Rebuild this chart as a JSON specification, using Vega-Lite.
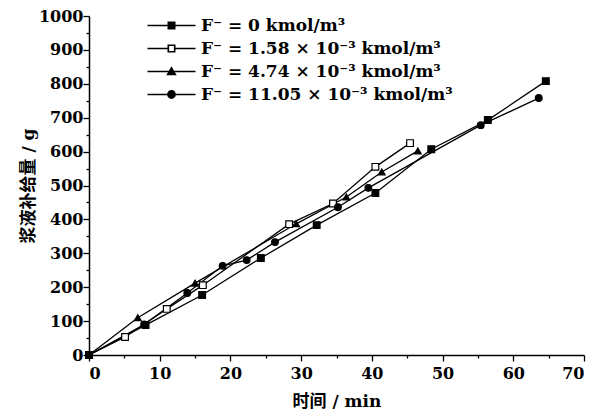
{
  "$schema": "https://vega.github.io/schema/vega-lite/v6.json",
  "width": 495,
  "height": 339,
  "autosize": {"type": "none"},
  "padding": {"left": 89, "top": 16, "right": 24, "bottom": 56},
  "background": "white",
  "config": {
    "view": {"stroke": null},
    "axis": {
      "domainColor": "black", "domainWidth": 1.5, "tickColor": "black", "tickWidth": 1.3, "ticks": true, "zindex": 1,
      "labelFont": "DejaVu Serif", "labelFontWeight": "bold", "labelFontSize": 16, "labelColor": "black",
      "titleFont": "DejaVu Serif, Noto Sans CJK SC", "titleFontWeight": "bold", "titleFontSize": 17, "titleColor": "black",
      "grid": false
    }
  },
  "data": {"values": [
    {"s": "F⁻ = 0 kmol/m³", "t": 0, "w": 0},
    {"s": "F⁻ = 0 kmol/m³", "t": 8, "w": 88},
    {"s": "F⁻ = 0 kmol/m³", "t": 16, "w": 177},
    {"s": "F⁻ = 0 kmol/m³", "t": 24.3, "w": 286},
    {"s": "F⁻ = 0 kmol/m³", "t": 32.2, "w": 383},
    {"s": "F⁻ = 0 kmol/m³", "t": 40.5, "w": 478},
    {"s": "F⁻ = 0 kmol/m³", "t": 48.4, "w": 607},
    {"s": "F⁻ = 0 kmol/m³", "t": 56.4, "w": 693},
    {"s": "F⁻ = 0 kmol/m³", "t": 64.6, "w": 808},
    {"s": "F⁻ = 1.58 × 10⁻³ kmol/m³", "t": 0, "w": 0},
    {"s": "F⁻ = 1.58 × 10⁻³ kmol/m³", "t": 5.1, "w": 53},
    {"s": "F⁻ = 1.58 × 10⁻³ kmol/m³", "t": 11, "w": 136},
    {"s": "F⁻ = 1.58 × 10⁻³ kmol/m³", "t": 16.1, "w": 206},
    {"s": "F⁻ = 1.58 × 10⁻³ kmol/m³", "t": 28.3, "w": 386},
    {"s": "F⁻ = 1.58 × 10⁻³ kmol/m³", "t": 34.5, "w": 447},
    {"s": "F⁻ = 1.58 × 10⁻³ kmol/m³", "t": 40.5, "w": 555},
    {"s": "F⁻ = 1.58 × 10⁻³ kmol/m³", "t": 45.4, "w": 625},
    {"s": "F⁻ = 4.74 × 10⁻³ kmol/m³", "t": 0, "w": 0},
    {"s": "F⁻ = 4.74 × 10⁻³ kmol/m³", "t": 6.9, "w": 110},
    {"s": "F⁻ = 4.74 × 10⁻³ kmol/m³", "t": 15, "w": 212},
    {"s": "F⁻ = 4.74 × 10⁻³ kmol/m³", "t": 29.3, "w": 387},
    {"s": "F⁻ = 4.74 × 10⁻³ kmol/m³", "t": 36.4, "w": 466},
    {"s": "F⁻ = 4.74 × 10⁻³ kmol/m³", "t": 41.4, "w": 540},
    {"s": "F⁻ = 4.74 × 10⁻³ kmol/m³", "t": 46.5, "w": 602},
    {"s": "F⁻ = 11.05 × 10⁻³ kmol/m³", "t": 0, "w": 0},
    {"s": "F⁻ = 11.05 × 10⁻³ kmol/m³", "t": 7.8, "w": 90},
    {"s": "F⁻ = 11.05 × 10⁻³ kmol/m³", "t": 13.9, "w": 183},
    {"s": "F⁻ = 11.05 × 10⁻³ kmol/m³", "t": 18.9, "w": 263},
    {"s": "F⁻ = 11.05 × 10⁻³ kmol/m³", "t": 22.3, "w": 280},
    {"s": "F⁻ = 11.05 × 10⁻³ kmol/m³", "t": 26.3, "w": 333},
    {"s": "F⁻ = 11.05 × 10⁻³ kmol/m³", "t": 35.2, "w": 436},
    {"s": "F⁻ = 11.05 × 10⁻³ kmol/m³", "t": 39.5, "w": 493},
    {"s": "F⁻ = 11.05 × 10⁻³ kmol/m³", "t": 55.4, "w": 678},
    {"s": "F⁻ = 11.05 × 10⁻³ kmol/m³", "t": 63.6, "w": 758}
  ]},
  "encoding": {
    "x": {"field": "t", "type": "quantitative", "scale": {"domain": [0, 70], "nice": false},
          "axis": {"orient": "bottom", "values": [0, 5, 10, 15, 20, 25, 30, 35, 40, 45, 50, 55, 60, 65, 70],
                   "labelExpr": "datum.value % 10 === 0 ? datum.label : ''",
                   "tickSize": 6,
                   "tickDash": {"condition": {"test": "datum.value % 10 !== 0", "value": [3, 20]}, "value": []},
                   "labelPadding": 4, "title": "时间 / min", "titlePadding": 12}},
    "y": {"field": "w", "type": "quantitative", "scale": {"domain": [0, 1000], "nice": false},
          "axis": {"orient": "left", "values": [0, 50, 100, 150, 200, 250, 300, 350, 400, 450, 500, 550, 600, 650, 700, 750, 800, 850, 900, 950, 1000],
                   "format": "d",
                   "labelExpr": "datum.value % 100 === 0 ? datum.label : ''",
                   "tickSize": 6,
                   "tickDash": {"condition": {"test": "datum.value % 100 !== 0", "value": [3, 20]}, "value": []},
                   "labelPadding": 0, "title": "浆液补给量 / g", "titlePadding": 1}}
  },
  "resolve": {"scale": {"shape": "independent"}},
  "layer": [
    {
      "mark": {"type": "line", "color": "black", "strokeWidth": 1.3},
      "encoding": {
        "detail": {"field": "s"},
        "order": {"field": "t"}
      }
    },
    {
      "mark": {"type": "point", "filled": false, "size": 45, "stroke": "black", "strokeWidth": 1.2, "opacity": 1},
      "encoding": {
        "shape": {"field": "s", "type": "nominal", "legend": null,
                  "scale": {"domain": ["F⁻ = 0 kmol/m³", "F⁻ = 1.58 × 10⁻³ kmol/m³", "F⁻ = 4.74 × 10⁻³ kmol/m³", "F⁻ = 11.05 × 10⁻³ kmol/m³"],
                            "range": ["square", "square", "triangle-up", "circle"]}},
        "fill": {"field": "s", "type": "nominal", "legend": null,
                 "scale": {"domain": ["F⁻ = 0 kmol/m³", "F⁻ = 1.58 × 10⁻³ kmol/m³", "F⁻ = 4.74 × 10⁻³ kmol/m³", "F⁻ = 11.05 × 10⁻³ kmol/m³"],
                           "range": ["black", "white", "black", "black"]}}
      }
    },
    {
      "mark": {"type": "point", "filled": true, "color": "black", "size": 64, "opacity": 0},
      "encoding": {
        "shape": {"field": "s", "type": "nominal",
                  "scale": {"domain": ["F⁻ = 0 kmol/m³", "F⁻ = 1.58 × 10⁻³ kmol/m³", "F⁻ = 4.74 × 10⁻³ kmol/m³", "F⁻ = 11.05 × 10⁻³ kmol/m³"],
                            "range": ["M-6,-0.17H6V0.17H-6ZM-1,-1H1V1H-1Z",
                                      "M-6,-0.17H-1V0.17H-6ZM1,-0.17H6V0.17H1ZM-1,-1H1V1H-1ZM-0.6,-0.6V0.6H0.6V-0.6Z",
                                      "M-6,-0.17H6V0.17H-6ZM0,-1.3L1.3,0.95H-1.3Z",
                                      "M-6,-0.17H6V0.17H-6ZM1.1,0A1.1,1.1,0,1,1,-1.1,0A1.1,1.1,0,1,1,1.1,0Z"]},
                  "legend": {"title": null, "orient": "none", "legendX": 74, "legendY": 1, "padding": 0,
                             "symbolSize": 64, "symbolOpacity": 1, "symbolFillColor": "black", "symbolStrokeWidth": 0,
                             "labelFont": "DejaVu Serif", "labelFontWeight": "bold", "labelFontSize": 17, "labelColor": "black",
                             "labelOffset": 21, "rowPadding": 5, "labelLimit": 400}}
      }
    }
  ]
}
